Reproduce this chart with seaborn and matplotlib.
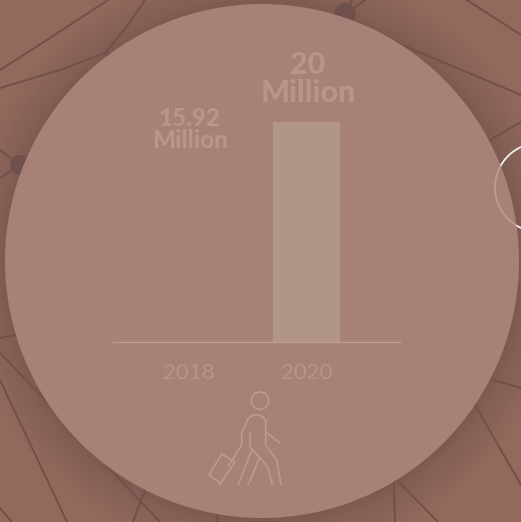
import numpy as np
import pandas as pd
import matplotlib
matplotlib.use("Agg")
import matplotlib.pyplot as plt
from matplotlib.colors import LinearSegmentedColormap
from matplotlib.patches import Circle, Polygon
import seaborn as sns

# Passenger figures, in millions
years = ["2018", "2020"]
passengers = [15.92, 20]
bar_alpha = [0.0, 1.0]
label_sizes = [17.5, 22]
label_offsets = [10.5, 10.5]
label_spacing = [0.96, 1.03]

BG_NEAR, BG_FAR = "#7c5a50", "#93695c"
PANEL = "#ad867b"
BAR = "#b29589"
LABEL = "#b6968b"
TICK = "#b4958b"
AXIS = "#bd9e94"
ICON = "#b99a90"
MESH = "#70504a"
W, H = 521, 522
CX, CY, R = 262, 261, 257

sns.set_theme(style="white")
fig = plt.figure(figsize=(W / 100, H / 100), dpi=100)

# Backdrop layer in pixel units: soft shadow, network mesh and the round panel
bg = fig.add_axes([0, 0, 1, 1])
bg.set_xlim(0, W)
bg.set_ylim(H, 0)
bg.axis("off")

yy, xx = np.mgrid[0:H, 0:W]
dist = np.hypot(xx - CX, yy - CY)
shade = np.clip((dist - R) / 45, 0, 1) ** 0.8
bg.imshow(shade, extent=(0, W, H, 0), aspect="auto", vmin=0, vmax=1,
          cmap=LinearSegmentedColormap.from_list("shade", [BG_NEAR, BG_FAR]),
          interpolation="bilinear", zorder=0)

mesh_paths = [
    [(0, 70), (50, 38), (108, 0)],
    [(0, 88), (60, 70), (105, 53), (133, 73)],
    [(105, 53), (128, 25), (145, 0)],
    [(0, 150), (20, 165), (0, 178)],
    [(20, 165), (77, 113), (133, 73)],
    [(345, 14), (352, 0)],
    [(345, 14), (365, 0)],
    [(345, 14), (387, 260), (395, 522)],
    [(395, 42), (521, 95)],
    [(467, 0), (521, 35)],
    [(490, 140), (521, 122)],
    [(490, 140), (340, 230), (160, 310)],
    [(197, 30), (207, 163)],
    [(258, 30), (227, 230), (220, 343), (217, 522)],
    [(0, 338), (15, 335), (140, 318)],
    [(0, 353), (50, 405), (160, 522)],
    [(0, 380), (67, 522)],
    [(190, 380), (145, 490), (133, 522)],
    [(0, 508), (12, 522)],
    [(340, 425), (490, 379), (521, 388)],
    [(300, 345), (475, 405), (521, 485)],
    [(330, 400), (397, 480), (438, 522)],
]
for path in mesh_paths:
    px, py = zip(*path)
    bg.plot(px, py, color=MESH, lw=1.4, solid_capstyle="round", zorder=1)
bg.add_patch(Circle((20, 165), 10, color=MESH, lw=0, zorder=1))
bg.add_patch(Circle((345, 14), 11, color=MESH, lw=0, zorder=1))
bg.add_patch(Circle((539.5, 187.5), 44.5, fill=False, ec="#f4eeeb", lw=1.3, zorder=1))
bg.add_patch(Circle((CX, CY), R, fc=PANEL, ec="none", alpha=0.9, zorder=2))
# The ring stays faintly visible through the panel
bg.add_patch(Circle((539.5, 187.5), 44.5, fill=False, ec="#f4eeeb", lw=1.3,
                    alpha=0.12, zorder=3))

# Traveller pictogram
icon_paths = [
    [(425, 375), (425, 340), (445, 295), (460, 285), (480, 285), (497, 300),
     (497, 375), (530, 420), (543, 493)],
    [(450, 338), (450, 380), (503, 440), (517, 493)],
    [(455, 390), (415, 493)],
    [(478, 415), (445, 493)],
    [(497, 335), (538, 368)],
    [(425, 375), (385, 438)],
    [(360, 488), (360, 495)],
]
for path in icon_paths:
    ix = [100 + p[0] / 3 for p in path]
    iy = [320 + p[1] / 3 for p in path]
    bg.plot(ix, iy, color=ICON, lw=1.25, solid_capstyle="round",
            solid_joinstyle="round", zorder=3)
case = [(365, 402), (405, 425), (362, 490), (327, 465)]
bg.add_patch(Polygon([(100 + a / 3, 320 + b / 3) for a, b in case], closed=True,
                     fill=False, ec=ICON, lw=1.25, joinstyle="round", zorder=3))
bg.add_patch(Circle((260, 400.7), 8.6, fill=False, ec=ICON, lw=1.25, zorder=3))

# Bar chart on top of the panel
left, right, base, top = 113, 400, 342, 122
ax = fig.add_axes([left / W, 1 - base / H, (right - left) / W, (base - top) / H])
ax.patch.set_alpha(0)
data = pd.DataFrame({"year": years, "passengers": passengers})
sns.barplot(data=data, x="year", y="passengers", color=BAR, saturation=1,
            width=0.568, ax=ax)
for patch, alpha in zip(ax.patches, bar_alpha):
    patch.set_alpha(alpha)
    patch.set_linewidth(0)

ax.set_xlim(-0.64, 1.792)
ax.set_ylim(0, max(passengers))
ax.set_xlabel("")
ax.set_ylabel("")
ax.set_yticks([])
sns.despine(ax=ax, left=True)
ax.spines["bottom"].set_color(AXIS)
ax.spines["bottom"].set_linewidth(0.9)
ax.tick_params(axis="x", length=0, pad=15, colors=TICK)
for tick in ax.get_xticklabels():
    tick.set_fontfamily("Lato")
    tick.set_fontweight("regular")
    tick.set_fontsize(16)

for i, value in enumerate(passengers):
    ax.annotate(f"{value:g}\nMillion", xy=(i, value), xytext=(1, label_offsets[i]),
                textcoords="offset points", ha="center", va="bottom",
                family="Lato", fontweight="black", fontsize=label_sizes[i],
                linespacing=label_spacing[i], color=LABEL, annotation_clip=False)

fig.savefig("out.png", dpi=100)
